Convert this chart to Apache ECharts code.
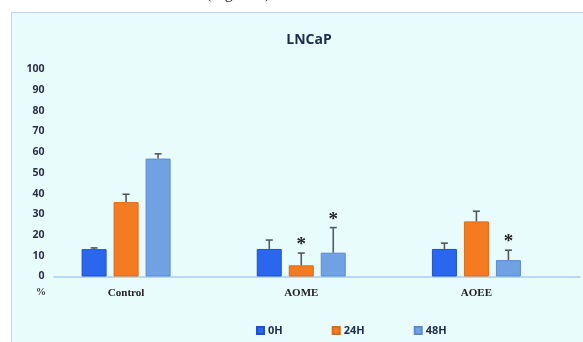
<!DOCTYPE html>
<html>
<head>
<meta charset="utf-8">
<script src="https://cdn.jsdelivr.net/npm/echarts@6/dist/echarts.min.js"></script>
<style>
  html, body { margin: 0; padding: 0; background: #ffffff; }
  #chart { width: 583px; height: 342px; }
</style>
</head>
<body>
<div id="chart"></div>
<script>
// Cell groups and time points
const categories = ['Control', 'AOME', 'AOEE'];
const seriesNames = ['0H', '24H', '48H'];

// Mean values (%) per time point, one entry per group
const values0H  = [13.2, 13.3, 13.3];
const values24H = [35.9, 5.4, 26.6];
const values48H = [56.9, 11.5, 7.9];

// Upper error (SD) per time point
const err0H  = [0.6, 4.3, 2.8];
const err24H = [3.8, 5.9, 4.9];
const err48H = [2.3, 12.1, 4.8];

// Significance marks (true = "*")
const sig0H  = [false, false, false];
const sig24H = [false, true, false];
const sig48H = [false, true, true];

const yTicks = { min: 0, max: 100, interval: 10 };

const colors = ['#2b67ee', '#f47b22', '#6fa1e3'];
const borders = ['#1d52c8', '#dd6a14', '#5b8bd0'];

const allValues = [values0H, values24H, values48H];
const allErrs = [err0H, err24H, err48H];
const allSig = [sig0H, sig24H, sig48H];

const BAR_W = 25, BAR_GAP = 7;

function errorSeries(i) {
  const data = categories.map((c, k) => [k, allValues[i][k], allErrs[i][k], allSig[i][k] ? 1 : 0]);
  return {
    type: 'custom',
    name: seriesNames[i] + ' err',
    xAxisIndex: 0, yAxisIndex: 0,
    z: 5,
    silent: true,
    data: data,
    renderItem: function (params, api) {
      const k = api.value(0);
      const v = api.value(1);
      const e = api.value(2);
      const s = api.value(3);
      const off = (i - 1) * (BAR_W + BAR_GAP);
      const base = api.coord([k, v]);
      const top = api.coord([k, v + e]);
      const x = base[0] + off;
      const children = [
        { type: 'line', shape: { x1: x, y1: base[1], x2: x, y2: top[1] },
          style: { stroke: '#555a60', lineWidth: 1.6 } },
        { type: 'line', shape: { x1: x - 3.5, y1: top[1], x2: x + 3.5, y2: top[1] },
          style: { stroke: '#555a60', lineWidth: 1.6 } }
      ];
      if (s) {
        children.push({
          type: 'text',
          x: x, y: top[1] - 8,
          style: { text: '*', fill: '#222', font: 'bold 19px "Liberation Serif"',
                   align: 'center', verticalAlign: 'middle' }
        });
      }
      return { type: 'group', children: children };
    }
  };
}

const barSeries = seriesNames.map((n, i) => ({
  type: 'bar',
  name: n,
  xAxisIndex: 0, yAxisIndex: 0,
  data: allValues[i],
  barWidth: BAR_W,
  barGap: (BAR_GAP / BAR_W * 100) + '%',
  itemStyle: { color: colors[i], borderColor: borders[i], borderWidth: 1 }
}));

const chart = echarts.init(document.getElementById('chart'), null, { renderer: 'canvas' });
chart.setOption({
  backgroundColor: '#ffffff',
  animation: false,
  graphic: [
    { type: 'rect', z: -10, shape: { x: 11.5, y: 12.5, width: 600, height: 360 },
      style: { fill: '#e8fcfc', stroke: '#b9d6ee', lineWidth: 1 } },
    { type: 'text', z: -5, left: 206, top: -14,
      style: { text: '(Figure 2)', font: '16px "Liberation Serif"', fill: '#222' } }
  ],
  title: {
    text: 'LNCaP',
    left: 304, top: 28, textAlign: 'center',
    textStyle: { fontFamily: 'Open Sans', fontWeight: 'bold', fontSize: 14, color: '#1f2b4e' }
  },
  legend: {
    data: seriesNames,
    left: 251, top: 320,
    itemWidth: 7, itemHeight: 7, itemGap: 49,
    icon: 'rect',
    textStyle: { fontFamily: 'Open Sans', fontWeight: 'bold', fontSize: 11, color: '#1f2b4e', padding: [0, 0, 0, -1] }
  },
  grid: [
    { left: 38.5, right: 19, top: 69.3, bottom: 65.5 },
    { left: 54, right: 3, top: 69.3, bottom: 65.5 }
  ],
  xAxis: [
    {
      type: 'category', gridIndex: 0, data: categories,
      axisLine: { show: false }, axisTick: { show: false },
      axisLabel: { margin: 11, fontFamily: 'Liberation Serif', fontWeight: 'bold', fontSize: 11, color: '#222' }
    },
    {
      type: 'value', gridIndex: 1, min: 0, max: 1,
      axisLine: { show: true, lineStyle: { color: '#a9c9ee', width: 1.5 } },
      axisTick: { show: false }, axisLabel: { show: false }, splitLine: { show: false }
    }
  ],
  yAxis: [
    {
      type: 'value', gridIndex: 0, min: yTicks.min, max: yTicks.max, interval: yTicks.interval,
      offset: -8,
      name: '%', nameLocation: 'start', nameGap: 11,
      nameTextStyle: { fontFamily: 'Liberation Serif', fontWeight: 'bold', fontSize: 10, color: '#333', padding: [0, 11, 0, 0] },
      axisLine: { show: false }, axisTick: { show: false }, splitLine: { show: false },
      axisLabel: { margin: 2, fontFamily: 'Open Sans', fontWeight: 'bold', fontSize: 10.5, color: '#2a2f45' }
    },
    { type: 'value', gridIndex: 1, show: false }
  ],
  series: barSeries.concat([0, 1, 2].map(errorSeries))
});
</script>
</body>
</html>
